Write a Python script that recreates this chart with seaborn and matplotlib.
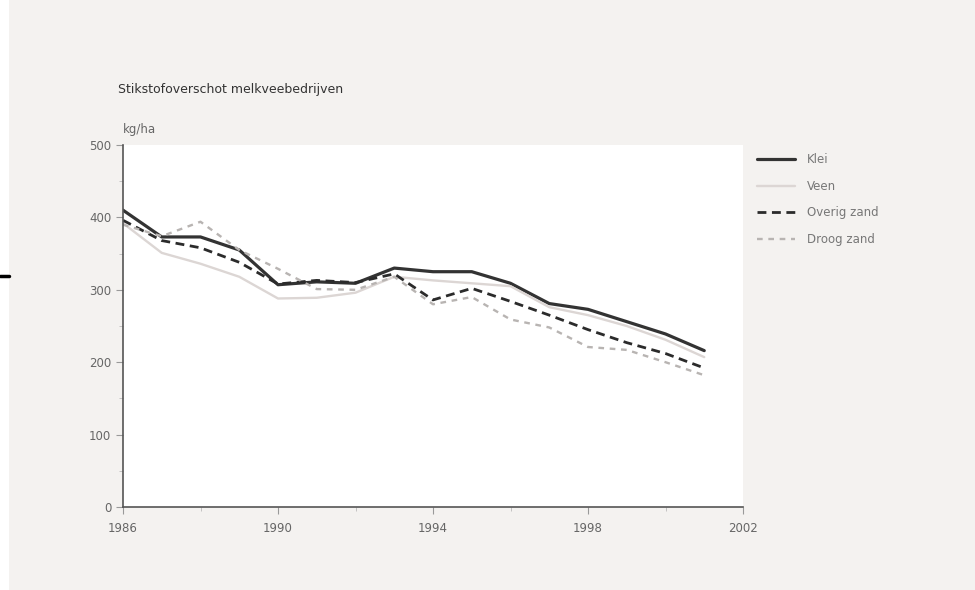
import numpy as np
import pandas as pd
import matplotlib
matplotlib.use("Agg")
import matplotlib.pyplot as plt
from matplotlib.patches import Rectangle
from matplotlib.lines import Line2D
import seaborn as sns

years = list(range(1986, 2002))
klei = [410, 373, 373, 355, 307, 311, 309, 330, 325, 325, 309, 281, 273, 256, 239, 216]
veen = [392, 351, 336, 318, 288, 289, 296, 318, 313, 309, 305, 276, 265, 250, 231, 207]
overig_zand = [396, 368, 358, 338, 308, 313, 310, 322, 286, 302, 284, 265, 245, 227, 212, 192]
droog_zand = [390, 374, 394, 355, 329, 301, 300, 318, 280, 290, 259, 248, 221, 217, 200, 182]

series = ["Klei", "Veen", "Overig zand", "Droog zand"]
values = [klei, veen, overig_zand, droog_zand]

styles = {
    "Klei": dict(color="#333333", lw=2.3, dashes=None),
    "Veen": dict(color="#dcd6d4", lw=1.7, dashes=None),
    "Overig zand": dict(color="#2b2b2b", lw=2.0, dashes=(3.2, 2.0)),
    "Droog zand": dict(color="#b8b4b2", lw=1.7, dashes=(2.4, 2.4)),
}

df = pd.DataFrame({
    "jaar": np.tile(years, len(series)),
    "waarde": np.concatenate(values),
    "grondsoort": np.repeat(series, len(years)),
})

sns.set_theme(style="white")
plt.rcParams["font.family"] = ["DejaVu Sans"]

bg = "#f4f2f0"
fig = plt.figure(figsize=(9.75, 5.9), dpi=100, facecolor=bg)
fig.patches.append(Rectangle((0, 0), 9 / 975, 1, transform=fig.transFigure,
                             facecolor="white", edgecolor="none", zorder=0))
fig.lines.append(Line2D([0, 9 / 975], [1 - 276 / 590] * 2, transform=fig.transFigure,
                        color="black", lw=2.5))

ax = fig.add_axes([123 / 975, 1 - 507 / 590, (743 - 123) / 975, (507 - 145) / 590])
ax.set_facecolor("white")

handles = []
for name in series:
    st = styles[name]
    sub = df[df["grondsoort"] == name]
    sns.lineplot(data=sub, x="jaar", y="waarde", ax=ax, color=st["color"],
                 linewidth=st["lw"], legend=False)
    h = Line2D([0], [0], color=st["color"], lw=st["lw"])
    if st["dashes"] is not None:
        ax.lines[-1].set_dashes(st["dashes"])
        h.set_dashes(st["dashes"])
    handles.append(h)

ax.set_xlim(1986, 2002)
ax.set_ylim(0, 500)
ax.set_xticks(range(1986, 2003, 4))
ax.set_xticks(range(1986, 2003, 2), minor=True)
ax.set_yticks(range(0, 501, 100))
ax.set_yticks(range(0, 501, 50), minor=True)
ax.set_xlabel("")
ax.set_ylabel("")

for side in ["top", "right"]:
    ax.spines[side].set_visible(False)
for side in ["left", "bottom"]:
    ax.spines[side].set_color("#555555")
    ax.spines[side].set_linewidth(1.2)

ax.tick_params(axis="both", which="major", direction="out", length=5, width=0.8,
               color="#999999", labelcolor="#666666", labelsize=8.5, bottom=True, left=True)
ax.tick_params(axis="both", which="minor", direction="out", length=3, width=0.6,
               color="#bbbbbb", bottom=True, left=True)
ax.tick_params(axis="x", pad=6)

fig.text(118 / 975, 1 - 89 / 590, "Stikstofoverschot melkveebedrijven",
         fontsize=9, color="#333333", va="center", ha="left")
fig.text(123 / 975, 1 - 130 / 590, "kg/ha", fontsize=8.5, color="#666666",
         va="center", ha="left")

leg = ax.legend(handles, series, loc="upper left", bbox_to_anchor=(1.01, 1.0),
                frameon=False, fontsize=8.5, handlelength=3.2, labelspacing=1.15,
                handletextpad=1.0, borderaxespad=0.3)
for t in leg.get_texts():
    t.set_color("#777777")

fig.savefig("out.png", dpi=100, facecolor=bg)
